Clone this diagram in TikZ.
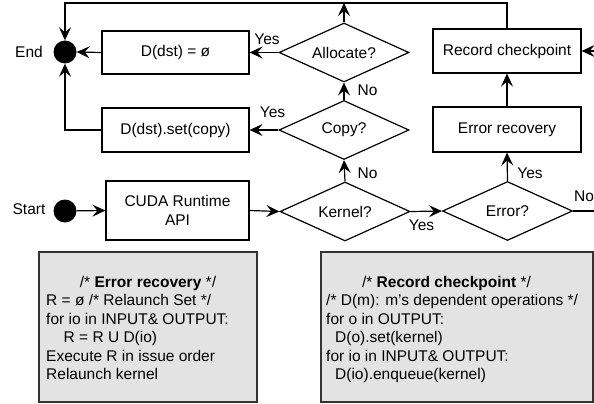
\documentclass[tikz,border=0pt]{standalone}
\usepackage{fontspec}
\setmainfont{Liberation Sans}
\usetikzlibrary{shapes.geometric,arrows.meta}
\begin{document}
\begin{tikzpicture}[x=1pt,y=-1pt,
  every node/.style={font=\fontsize{15.5}{18.5}\selectfont},
  box/.style={draw, line width=1.2pt, minimum width=147pt, minimum height=44pt, inner sep=0pt, align=center},
  dia/.style={draw, diamond, line width=1.2pt, minimum width=130pt, minimum height=59pt, inner sep=0pt, aspect=2.2},
  dot/.style={circle, fill=black, minimum size=23pt, inner sep=0pt},
  arr/.style={-{Stealth[length=13pt,width=12pt,inset=5pt]}, line width=1.2pt},
  ln/.style={line width=1.2pt},
  lbl/.style={inner sep=0pt},
  panel/.style={draw=black!80, fill=gray!22, line width=1.5pt, inner sep=0pt},
  code/.style={anchor=base west, inner sep=0pt},
]
\useasboundingbox (0,0) rectangle (594,404);

% end / start
\node[dot] (endc) at (65,52) {};
\node[lbl] (endl) at (29,52) {End};
\node[dot] (startc) at (65,211) {};
\node[lbl] (startl) at (29,209) {Start};

% boxes
\node[box, minimum height=43pt] (dnull) at (175.5,52.5) {D(dst) = ø};
\node[box] (dset) at (175.5,130) {D(dst).set(copy)};
\node[box, minimum width=143pt, minimum height=59pt] (cuda) at (177.5,210.5) {CUDA Runtime\\API};
\node[box, minimum width=148pt, minimum height=45pt] (errrec) at (507,129.5) {Error recovery};
\node[box, minimum width=148pt] (rec) at (507,51) {Record checkpoint};

% diamonds
\node[dia] (alloc) at (344,52.5) {Allocate?};
\node[dia] (copy) at (344,130) {Copy?};
\node[dia] (kernel) at (345,211.5) {Kernel?};
\node[dia] (error) at (507.5,211) {Error?};

% coordinates
\coordinate (topR) at (507,3);
\coordinate (topL) at (65,3);
\coordinate (offR) at (610,211);
\coordinate (offRt) at (610,51);

% connectors
\draw[arr] (startc) -- (cuda.west);
\draw[arr] (cuda.east) -- (kernel.west);
\draw[arr] (kernel.east) -- (error.west);
\draw[arr] (kernel.north) -- (copy.south);
\draw[arr] (copy.north) -- (alloc.south);
\draw[arr] (alloc.north) -- (alloc.north |- topR);
\draw[arr] (alloc.west) -- (dnull.east);
\draw[arr] (copy.west) -- (dset.east);
\draw[arr] (dnull.west) -- (endc.east);
\draw[arr] (dset.west) -| (endc.south);
\draw[arr] (rec.north) -- (topR) -- (topL) -- (endc.north);
\draw[arr] (error.north) -- (errrec.south);
\draw[arr] (errrec.north) -- (rec.south);
\draw[ln] (error.east) -- (offR);
\draw[arr] (offR) -- (offRt) -- (rec.east);

% labels
\node[lbl] (y1) at (267,39) {Yes};
\node[lbl] (y2) at (272.5,112.5) {Yes};
\node[lbl] (n1) at (367.5,90) {No};
\node[lbl] (n2) at (367.5,173) {No};
\node[lbl] (y3) at (421.5,225.5) {Yes};
\node[lbl] (y4) at (530,173) {Yes};
\node[lbl, anchor=west] (n3) at (574,196) {No};

% panels
\node[panel, minimum width=218pt, minimum height=150pt] (lp) at (148,327) {};
\node[panel, minimum width=272pt, minimum height=150pt] (rp) at (457,327) {};

\node[anchor=base, inner sep=0pt] (lt) at (148,287.5) {/* \textbf{Error recovery} */};
\node[code] (l1) at (46,305.5) {R = ø /* Relaunch Set */};
\node[code] (l2) at (46,324) {for io in INPUT\& OUTPUT:};
\node[code] (l3) at (63.5,342.5) {R = R U D(io)};
\node[code] (l4) at (46,361) {Execute R in issue order};
\node[code] (l5) at (46,379.5) {Relaunch kernel};

\node[anchor=base, inner sep=0pt] (rt) at (446.5,287.5) {/* \textbf{Record checkpoint} */};
\node[code] (r1) at (326,305.5) {/* D(m): m’s dependent operations */};
\node[code] (r2) at (326,324) {for o in OUTPUT:};
\node[code] (r3) at (335,342.5) {D(o).set(kernel)};
\node[code] (r4) at (326,361) {for io in INPUT\& OUTPUT:};
\node[code] (r5) at (335,379.5) {D(io).enqueue(kernel)};
\end{tikzpicture}
\end{document}
